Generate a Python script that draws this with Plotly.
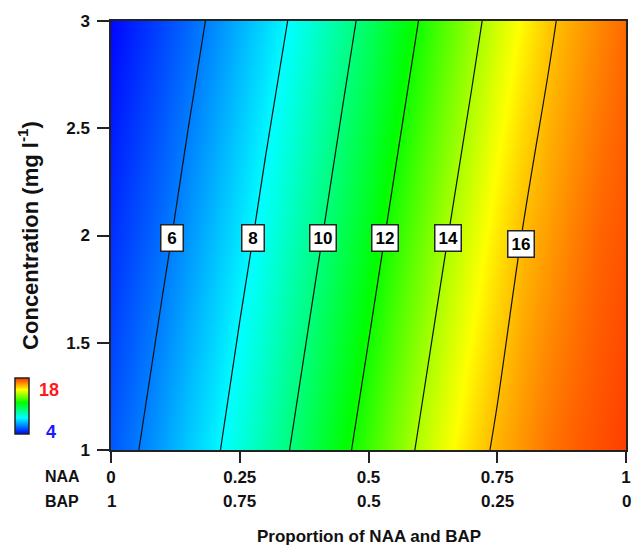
import numpy as np
import plotly.graph_objects as go

# Proportion of NAA (x) and concentration (y)
x_naa = [0.0, 0.05, 0.10, 0.15, 0.20, 0.25, 0.30, 0.35, 0.40, 0.45, 0.50,
         0.55, 0.60, 0.65, 0.70, 0.75, 0.80, 0.85, 0.90, 0.95, 1.0]
y_conc = [1.0, 2.0, 3.0]

# response values (rows: concentration 1, 2, 3)
z_row_1 = [5.40, 5.95, 6.57, 7.20, 7.82, 8.54, 9.29, 10.05, 10.88, 11.72, 12.54,
           13.36, 14.16, 14.87, 15.57, 16.17, 16.60, 17.03, 17.34, 17.57, 17.80]
z_row_2 = [4.75, 5.25, 5.78, 6.38, 7.01, 7.64, 8.32, 9.07, 9.82, 10.63, 11.47,
           12.30, 13.12, 13.93, 14.65, 15.36, 16.04, 16.47, 16.90, 17.27, 17.50]
z_row_3 = [4.10, 4.60, 5.10, 5.62, 6.19, 6.82, 7.45, 8.09, 8.84, 9.59, 10.38,
           11.22, 12.05, 12.87, 13.69, 14.44, 15.15, 15.86, 16.34, 16.77, 17.20]

contour_levels = [6, 8, 10, 12, 14, 16]
label_y = [1.99, 1.99, 1.99, 1.99, 1.99, 1.96]

tick_vals = [0, 0.25, 0.5, 0.75, 1]
naa_ticks = ["0", "0.25", "0.5", "0.75", "1"]
bap_ticks = ["1", "0.75", "0.5", "0.25", "0"]
y_ticks = [1, 1.5, 2, 2.5, 3]
y_tick_text = ["1", "1.5", "2", "2.5", "3"]

z = [z_row_1, z_row_2, z_row_3]

FONT = "Arial, Liberation Sans, sans-serif"
INK = "#111111"

colorscale = [[0.0, "#0000ff"], [0.29, "#00ffff"], [0.557, "#00ff00"],
              [0.79, "#ffff00"], [1.0, "#ff3000"]]

fig = go.Figure()
fig.add_trace(go.Contour(
    x=x_naa, y=y_conc, z=z,
    zmin=4, zmax=18,
    colorscale=colorscale,
    contours=dict(coloring="heatmap", start=6, end=16, size=2, showlabels=False),
    line=dict(color="#111111", width=1.2),
    showscale=False,
    hoverinfo="skip",
))
# continuous colour key
fig.add_trace(go.Scatter(
    x=[None], y=[None], mode="markers",
    marker=dict(color=[4], cmin=4, cmax=18, colorscale=colorscale, showscale=True,
                colorbar=dict(
                    x=-0.186, xanchor="left", xref="paper",
                    y=0.103, yanchor="middle",
                    len=56, lenmode="pixels", thickness=14,
                    outlinecolor="#222222", outlinewidth=1.5,
                    showticklabels=False, ticks="",
                    xpad=0, ypad=0,
                )),
    hoverinfo="skip", showlegend=False,
))

annotations = []
row2 = np.array(z_row_2)
for lev, ly in zip(contour_levels, label_y):
    xc = float(np.interp(lev, row2, np.array(x_naa)))
    txt = str(lev)
    annotations.append(dict(
        x=xc, y=ly, xref="x", yref="y", text=f"<b>{txt}</b>", showarrow=False,
        font=dict(family=FONT, size=17, color="black"),
        width=15 if len(txt) == 1 else None, align="center",
        bgcolor="white", bordercolor="#222222", borderwidth=1.5, borderpad=3,
    ))

# BAP row of tick labels
for tv, bt in zip(tick_vals, bap_ticks):
    annotations.append(dict(
        x=tv, y=-0.1198, xref="x", yref="paper", text=f"<b>{bt}</b>",
        showarrow=False, font=dict(family=FONT, size=17, color=INK),
        xanchor="center", yanchor="middle"))

annotations += [
    dict(x=-0.0945, y=-0.0615, xref="paper", yref="paper", text="<b>NAA</b>",
         showarrow=False, font=dict(family=FONT, size=16, color=INK),
         xanchor="center", yanchor="middle"),
    dict(x=-0.0945, y=-0.1198, xref="paper", yref="paper", text="<b>BAP</b>",
         showarrow=False, font=dict(family=FONT, size=16, color=INK),
         xanchor="center", yanchor="middle"),
    dict(x=0.5, y=-0.2005, xref="paper", yref="paper",
         text="<b>Proportion of NAA and BAP</b>", showarrow=False,
         font=dict(family=FONT, size=17, color=INK),
         xanchor="center", yanchor="middle"),
    dict(x=-0.1195, y=0.140, xref="paper", yref="paper", text="<b>18</b>",
         showarrow=False, font=dict(family=FONT, size=18, color="#ff1a1a"),
         xanchor="center", yanchor="middle"),
    dict(x=-0.116, y=0.041, xref="paper", yref="paper", text="<b>4</b>",
         showarrow=False, font=dict(family=FONT, size=18, color="#1a1aff"),
         xanchor="center", yanchor="middle"),
]

fig.update_layout(
    width=643, height=551,
    margin=dict(l=111, r=15, t=16, b=101),
    paper_bgcolor="white", plot_bgcolor="white",
    font=dict(family=FONT, size=17, color=INK),
    xaxis=dict(range=[0, 1], tickvals=tick_vals,
               ticktext=[f"<b>{t}</b>" for t in naa_ticks],
               ticks="outside", ticklen=11, tickwidth=1.5, tickcolor="#222",
               ticklabelstandoff=0,
               showline=True, linecolor="#222", linewidth=1.5, mirror=True,
               showgrid=False, zeroline=False,
               tickfont=dict(family=FONT, size=17, color=INK)),
    yaxis=dict(range=[1, 3], tickvals=y_ticks,
               ticktext=[f"<b>{t}</b>" for t in y_tick_text],
               ticks="outside", ticklen=12, tickwidth=1.5, tickcolor="#222",
               ticklabelstandoff=4,
               showline=True, linecolor="#222", linewidth=1.5, mirror=True,
               showgrid=False, zeroline=False,
               tickfont=dict(family=FONT, size=17, color=INK),
               title=dict(text="<b>Concentration (mg l<sup>-1</sup>)</b>",
                          font=dict(family=FONT, size=22, color=INK),
                          standoff=22)),
    annotations=annotations,
    showlegend=False,
)

fig.write_html("out.html", config={"displayModeBar": False},
               post_script="document.body.style.margin='0px';document.body.style.padding='0px';")
